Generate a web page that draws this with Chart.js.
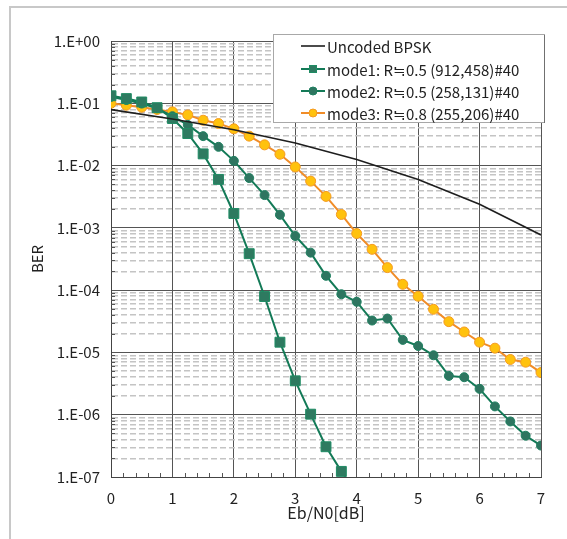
<!DOCTYPE html>
<html>
<head>
<meta charset="utf-8">
<script src="https://cdn.jsdelivr.net/npm/chart.js@4/dist/chart.umd.min.js"></script>
<style>
  html, body { margin: 0; padding: 0; background: #ffffff; }
  #wrap { width: 567px; height: 539px; position: relative; }
</style>
</head>
<body>
<div id="wrap"><canvas id="ber"></canvas></div>
<script>
// Eb/N0 sweep points [dB]
const snrUncoded = [0, 1, 2, 3, 4, 5, 6, 7];
const snrMode1 = [0, 0.25, 0.5, 0.75, 1, 1.25, 1.5, 1.75, 2, 2.25, 2.5, 2.75, 3, 3.25, 3.5, 3.75, 4];
const snrMode23 = [0, 0.25, 0.5, 0.75, 1, 1.25, 1.5, 1.75, 2, 2.25, 2.5, 2.75, 3, 3.25, 3.5, 3.75,
                   4, 4.25, 4.5, 4.75, 5, 5.25, 5.5, 5.75, 6, 6.25, 6.5, 6.75, 7];

// Bit error rates
const berUncoded = [0.079, 0.056, 0.0375, 0.023, 0.0125, 0.006, 0.0024, 0.00077];
const berMode1 = [0.132, 0.119, 0.105, 0.085, 0.057, 0.0327, 0.0154, 0.006, 0.0017, 0.000385,
                  7.9e-5, 1.46e-5, 3.5e-6, 1.02e-6, 3.06e-7, 1.23e-7, 5.6e-8];
const berMode2 = [0.127, 0.113, 0.099, 0.083, 0.062, 0.045, 0.0297, 0.02, 0.0119, 0.0063,
                  0.00336, 0.00162, 0.00074, 0.0004, 0.00017, 8.6e-5, 6.5e-5, 3.25e-5, 3.5e-5,
                  1.59e-5, 1.27e-5, 9.0e-6, 4.2e-6, 4.0e-6, 2.6e-6, 1.36e-6, 7.8e-7, 4.6e-7, 3.2e-7];
const berMode3 = [0.1, 0.093, 0.0865, 0.0795, 0.0728, 0.0651, 0.0535, 0.0473, 0.0389, 0.0297,
                  0.0215, 0.0152, 0.0095, 0.00563, 0.0032, 0.00164, 0.00081, 0.000452, 0.00023,
                  0.000124, 7.98e-5, 4.93e-5, 3.12e-5, 2.13e-5, 1.46e-5, 1.17e-5, 7.7e-6, 6.97e-6, 4.75e-6];

// Series names
const seriesNames = [
  'Uncoded BPSK',
  'mode1: R\u22520.5 (912,458)#40',
  'mode2: R\u22520.5 (258,131)#40',
  'mode3: R\u22520.8 (255,206)#40'
];

// Axis ticks
const xTickValues = [0, 1, 2, 3, 4, 5, 6, 7];
const xTickLabels = ['0', '1', '2', '3', '4', '5', '6', '7'];
const yTickValues = [1, 1e-1, 1e-2, 1e-3, 1e-4, 1e-5, 1e-6, 1e-7];
const yTickLabels = ['1.E+00', '1.E-01', '1.E-02', '1.E-03', '1.E-04', '1.E-05', '1.E-06', '1.E-07'];
const xTitle = 'Eb/N0[dB]';
const yTitle = 'BER';

const FONT = '"Noto Sans CJK JP", "Noto Sans", sans-serif';
const TEXT = '#222222';

const toPoints = (xs, ys) => xs.map((x, i) => ({ x: x, y: ys[i] }));

function isDecade(v) {
  const l = Math.log10(v);
  return Math.abs(l - Math.round(l)) < 1e-9;
}

// decades plus the 2..9 minor positions in each decade
function logTicks() {
  const out = [];
  for (let e = -7; e <= 0; e++) {
    for (let m = 1; m <= 9; m++) {
      const v = m * Math.pow(10, e);
      if (v <= 1 + 1e-12) out.push({ value: v });
    }
  }
  return out;
}

// outer frame, inner minor tick marks, and the boxed legend
const decorations = {
  id: 'decorations',
  beforeDraw(chart) {
    const ctx = chart.ctx;
    ctx.save();
    ctx.strokeStyle = '#c8c8c8';
    ctx.lineWidth = 2;
    ctx.beginPath();
    ctx.moveTo(567, 7);
    ctx.lineTo(10, 7);
    ctx.lineTo(10, 539);
    ctx.stroke();
    ctx.restore();
  },
  beforeDatasetsDraw(chart) {
    const ctx = chart.ctx;
    const xs = chart.scales.x, ys = chart.scales.y;
    const area = chart.chartArea;
    ctx.save();
    ctx.strokeStyle = '#555555';
    ctx.lineWidth = 1;
    ctx.beginPath();
    for (let k = 1; k < 35; k++) {
      if (k % 5 === 0) continue;
      const px = Math.round(xs.getPixelForValue(k / 5)) + 0.5;
      ctx.moveTo(px, area.bottom);
      ctx.lineTo(px, area.bottom - 4);
    }
    logTicks().forEach(t => {
      if (isDecade(t.value)) return;
      const py = Math.round(ys.getPixelForValue(t.value)) + 0.5;
      ctx.moveTo(area.left, py);
      ctx.lineTo(area.left + 4, py);
    });
    ctx.stroke();
    ctx.restore();
  },
  afterDraw(chart) {
    const ctx = chart.ctx;
    const L = 273, T = 34, R = 545, B = 123;
    ctx.save();
    ctx.fillStyle = '#ffffff';
    ctx.fillRect(L, T, R - L, B - T);
    ctx.strokeStyle = '#a8a8a8';
    ctx.lineWidth = 1;
    ctx.strokeRect(L + 0.5, T + 0.5, R - L - 1, B - T - 1);
    ctx.strokeStyle = '#707070';
    ctx.beginPath();
    ctx.moveTo(R - 0.5, T + 1);
    ctx.lineTo(R - 0.5, B);
    ctx.stroke();

    const rows = [46, 69, 91, 113];
    ctx.font = '15px ' + FONT;
    ctx.textBaseline = 'middle';
    ctx.textAlign = 'left';
    chart.data.datasets.forEach((ds, i) => {
      const y = rows[i];
      ctx.strokeStyle = ds.borderColor;
      ctx.lineWidth = ds.borderWidth;
      ctx.beginPath();
      ctx.moveTo(301, y);
      ctx.lineTo(325, y);
      ctx.stroke();
      if (ds.pointRadius > 0) {
        ctx.fillStyle = ds.pointBackgroundColor;
        ctx.strokeStyle = ds.pointBorderColor;
        ctx.lineWidth = 1;
        if (ds.pointStyle === 'rect') {
          ctx.fillRect(309, y - 4, 8, 8);
          ctx.strokeRect(309.5, y - 3.5, 7, 7);
        } else {
          ctx.beginPath();
          ctx.arc(313, y, 4, 0, Math.PI * 2);
          ctx.fill();
          ctx.stroke();
        }
      }
      ctx.fillStyle = TEXT;
      ctx.fillText(ds.label, 327, y + 1);
    });
    ctx.restore();
  }
};

new Chart(document.getElementById('ber'), {
  type: 'line',
  data: {
    datasets: [
      {
        label: seriesNames[0],
        data: toPoints(snrUncoded, berUncoded),
        borderColor: '#1e1e1e',
        borderWidth: 1.6,
        pointRadius: 0,
        pointHoverRadius: 0,
        tension: 0
      },
      {
        label: seriesNames[1],
        data: toPoints(snrMode1, berMode1),
        borderColor: '#137a57',
        borderWidth: 2,
        pointStyle: 'rect',
        pointRadius: 7,
        pointBackgroundColor: '#2e7a60',
        pointBorderColor: '#1f8c64',
        pointBorderWidth: 1,
        tension: 0
      },
      {
        label: seriesNames[2],
        data: toPoints(snrMode23, berMode2),
        borderColor: '#137a57',
        borderWidth: 2,
        pointStyle: 'circle',
        pointRadius: 4.5,
        pointBackgroundColor: '#2e7560',
        pointBorderColor: '#1f8060',
        pointBorderWidth: 1,
        tension: 0
      },
      {
        label: seriesNames[3],
        data: toPoints(snrMode23, berMode3),
        borderColor: '#f08c28',
        borderWidth: 2,
        pointStyle: 'circle',
        pointRadius: 5,
        pointBackgroundColor: '#ffc20e',
        pointBorderColor: '#f59a22',
        pointBorderWidth: 1,
        tension: 0
      }
    ]
  },
  options: {
    responsive: true,
    maintainAspectRatio: false,
    animation: false,
    events: [],
    layout: { padding: { left: 10, right: 26, top: 41, bottom: 0 } },
    plugins: {
      legend: { display: false },
      title: { display: false },
      tooltip: { enabled: false }
    },
    scales: {
      x: {
        type: 'linear',
        min: 0,
        max: 7,
        afterBuildTicks(scale) {
          scale.ticks = xTickValues.map(v => ({ value: v }));
        },
        afterFit(scale) { scale.height = 62; },
        ticks: {
          autoSkip: false,
          maxRotation: 0,
          padding: 12,
          color: TEXT,
          font: { family: FONT, size: 15 },
          callback: (v, i) => xTickLabels[i]
        },
        grid: {
          color: '#555555',
          lineWidth: 1,
          drawTicks: false
        },
        border: { color: '#444444', width: 1 },
        title: {
          display: true,
          text: xTitle,
          color: TEXT,
          font: { family: FONT, size: 16 },
          padding: { top: 0, bottom: 16 }
        }
      },
      y: {
        type: 'logarithmic',
        min: 1e-7,
        max: 1,
        afterBuildTicks(scale) {
          scale.ticks = logTicks();
        },
        afterFit(scale) { scale.width = 101; },
        ticks: {
          autoSkip: false,
          padding: 11,
          color: TEXT,
          font: { family: FONT, size: 15 },
          callback(v) {
            const i = yTickValues.findIndex(t => Math.abs(Math.log10(t) - Math.log10(v)) < 1e-9);
            return i >= 0 ? yTickLabels[i] : '';
          }
        },
        grid: {
          drawTicks: false,
          color: ctx => (ctx.tick && isDecade(ctx.tick.value)) ? '#555555' : '#c4c4c4',
          lineWidth: ctx => (ctx.tick && isDecade(ctx.tick.value)) ? 1 : 1.5
        },
        border: {
          color: '#444444',
          width: 1,
          dash: ctx => (ctx.tick && isDecade(ctx.tick.value)) ? [] : [6, 3]
        },
        title: {
          display: true,
          text: yTitle,
          color: TEXT,
          font: { family: FONT, size: 15 },
          padding: { top: 18, bottom: 0 }
        }
      }
    }
  },
  plugins: [decorations]
});
</script>
</body>
</html>
